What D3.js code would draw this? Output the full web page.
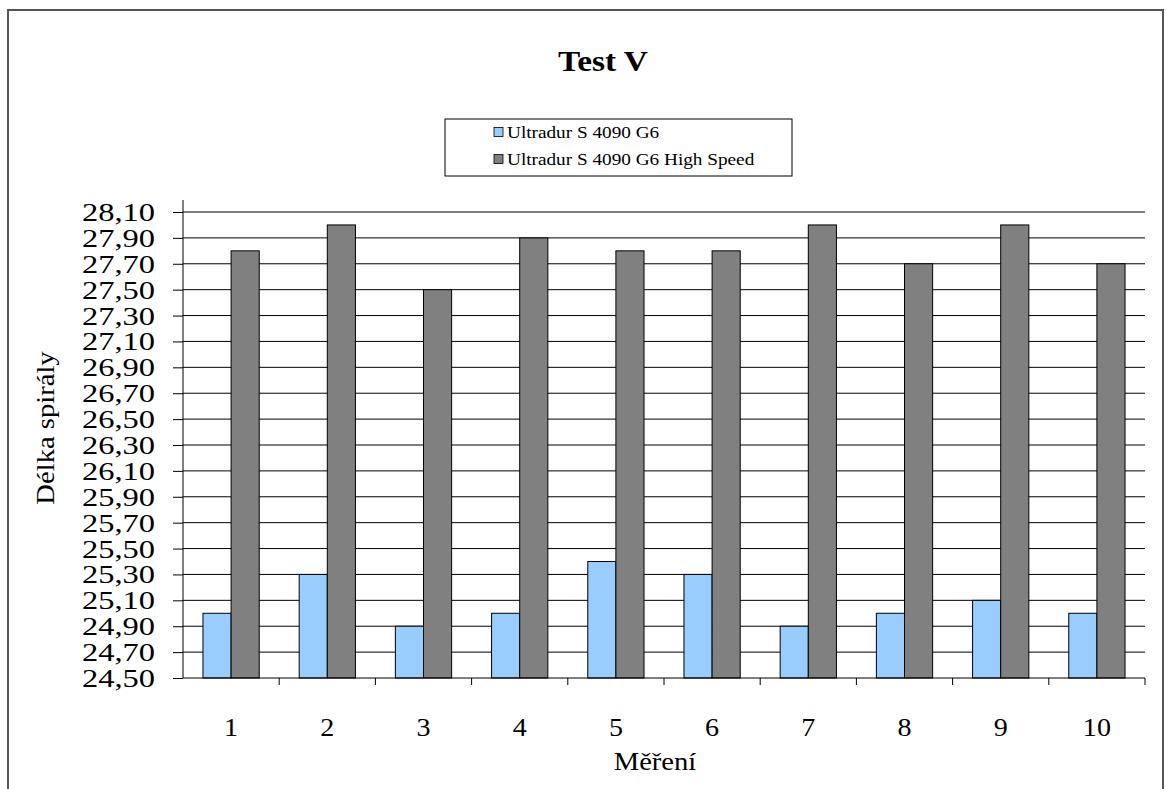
<!DOCTYPE html>
<html>
<head>
<meta charset="utf-8">
<script src="https://cdn.jsdelivr.net/npm/d3@7"></script>
<style>
  body { margin: 0; background: #fff; }
  svg text { font-family: "Liberation Serif", "Times New Roman", serif; fill: #000; }
</style>
</head>
<body>
<div id="chart"></div>
<script>
// Test V - délka spirály
const categories = ["1", "2", "3", "4", "5", "6", "7", "8", "9", "10"];
const seriesNames = ["Ultradur S 4090 G6", "Ultradur S 4090 G6 High Speed"];
const seriesColors = ["#99ccff", "#808080"];
const valuesStd = [25.00, 25.30, 24.90, 25.00, 25.40, 25.30, 24.90, 25.00, 25.10, 25.00];
const valuesHS = [27.80, 28.00, 27.50, 27.90, 27.80, 27.80, 28.00, 27.70, 28.00, 27.70];
const yTicks = d3.range(0, 19).map(i => +(24.5 + i * 0.2).toFixed(2));

const W = 1166, H = 789;
const plot = { left: 183, right: 1145, top: 212, bottom: 678 };

const svg = d3.select("#chart")
    .append("svg")
    .attr("width", W)
    .attr("height", H);

// outer chart border
svg.append("rect")
    .attr("x", 8).attr("y", 10)
    .attr("width", 1155).attr("height", 790)
    .attr("fill", "#fff")
    .attr("stroke", "#555")
    .attr("stroke-width", 2);

const x = d3.scaleBand()
    .domain(categories)
    .range([plot.left, plot.right]);

const x1 = d3.scaleBand()
    .domain([0, 1])
    .range([0, x.bandwidth()])
    .paddingInner(0)
    .paddingOuter(0.71);

const y = d3.scaleLinear()
    .domain([24.5, 28.1])
    .range([plot.bottom, plot.top]);

const fmt = v => d3.format(".2f")(v).replace(".", ",");

// Gridlines
svg.append("g")
    .selectAll("line")
    .data(yTicks.slice(1))
    .join("line")
    .attr("x1", plot.left).attr("x2", plot.right)
    .attr("y1", d => y(d)).attr("y2", d => y(d))
    .attr("stroke", "#000")
    .attr("stroke-width", 1);

// Y axis
const yAxis = svg.append("g")
    .attr("transform", `translate(${plot.left},0)`)
    .call(d3.axisLeft(y).tickValues(yTicks).tickSize(10).tickPadding(11.5).tickFormat(fmt));
yAxis.attr("font-family", null);
yAxis.select(".domain").remove();
yAxis.selectAll(".tick line").attr("stroke", "#000");
yAxis.selectAll(".tick text")
    .attr("font-size", 25)
    .attr("dy", "0.34em")
    .attr("transform", "scale(1.3,1)");
yAxis.append("line")
    .attr("x1", 0).attr("x2", 0)
    .attr("y1", plot.top - 12).attr("y2", plot.bottom)
    .attr("stroke", "#000");

// Bars
const groups = svg.append("g")
    .selectAll("g")
    .data(categories.map((c, i) => ({ cat: c, vals: [valuesStd[i], valuesHS[i]] })))
    .join("g")
    .attr("transform", d => `translate(${x(d.cat)},0)`);

groups.selectAll("rect")
    .data(d => d.vals.map((v, k) => ({ k, v })))
    .join("rect")
    .attr("x", d => x1(d.k))
    .attr("width", x1.bandwidth())
    .attr("y", d => y(d.v))
    .attr("height", d => y(24.5) - y(d.v))
    .attr("fill", d => seriesColors[d.k])
    .attr("stroke", "#000")
    .attr("stroke-width", 1);

// X axis
const xAxis = svg.append("g")
    .attr("transform", `translate(0,${plot.bottom})`)
    .call(d3.axisBottom(x).tickSize(0).tickPadding(40));
xAxis.attr("font-family", null);
xAxis.select(".domain").attr("stroke", "#000").attr("d", `M${plot.left},0H${plot.right}`);
xAxis.selectAll(".tick text")
    .attr("font-size", 26)
    .attr("transform", "scale(1.08,1)");
svg.append("g")
    .selectAll("line")
    .data(d3.range(1, categories.length + 1))
    .join("line")
    .attr("x1", i => plot.left + i * x.step())
    .attr("x2", i => plot.left + i * x.step())
    .attr("y1", plot.bottom).attr("y2", plot.bottom + 7)
    .attr("stroke", "#000");

// Title
svg.append("text")
    .attr("transform", "translate(603,71) scale(1.15,1)")
    .attr("text-anchor", "middle")
    .attr("font-size", 29)
    .attr("font-weight", "bold")
    .text("Test V");

// Axis titles
svg.append("text")
    .attr("transform", "translate(655,770) scale(1.1,1)")
    .attr("text-anchor", "middle")
    .attr("font-size", 26)
    .text("Měření");

svg.append("text")
    .attr("transform", "translate(54,428) rotate(-90) scale(1.1,1)")
    .attr("text-anchor", "middle")
    .attr("font-size", 26)
    .text("Délka spirály");

// Legend
const legend = svg.append("g");
legend.append("rect")
    .attr("x", 445).attr("y", 119)
    .attr("width", 347).attr("height", 57)
    .attr("fill", "#fff")
    .attr("stroke", "#000")
    .attr("stroke-width", 1);
seriesNames.forEach((name, i) => {
    const cy = 132 + i * 27;
    legend.append("rect")
        .attr("x", 494).attr("y", cy - 4.5)
        .attr("width", 9).attr("height", 9)
        .attr("fill", seriesColors[i])
        .attr("stroke", "#000")
        .attr("stroke-width", 0.8);
    legend.append("text")
        .attr("transform", `translate(507,${cy + 5.5}) scale(1.1,1)`)
        .attr("font-size", 17.5)
        .text(name);
});
</script>
</body>
</html>
